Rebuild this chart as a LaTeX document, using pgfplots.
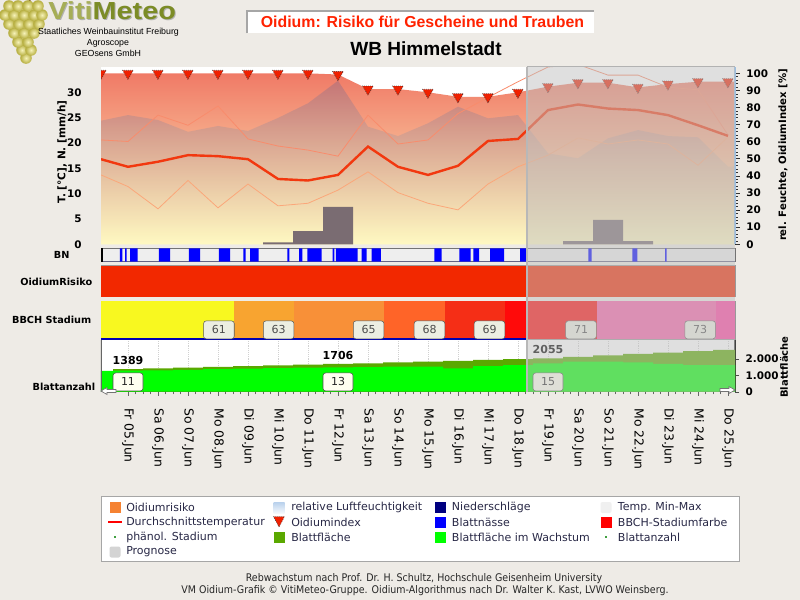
\documentclass[border=0pt]{standalone}
\usepackage{pgfplots}
\pgfplotsset{compat=1.18}
\usepgfplotslibrary{fillbetween}
\usepackage{fontspec}
\setmainfont{DejaVu Sans}
\newfontfamily\arialf{Liberation Sans}
\newfontfamily\logof[FakeStretch=1.17]{Liberation Sans}
\newfontfamily\footf[FakeStretch=0.9]{DejaVu Sans}
\newcommand{\fsz}[1]{\fontsize{#1}{#1}\selectfont}

\definecolor{pagebg}{HTML}{EEEBE6}
\definecolor{oidtop}{HTML}{F07A66}
\definecolor{oidbot}{HTML}{FFF9C2}
\definecolor{humtop}{HTML}{6A6290}
\definecolor{tline}{HTML}{F98C6C}
\definecolor{tlinemin}{HTML}{FBA77A}
\definecolor{tavg}{HTML}{F2380F}
\definecolor{precip}{HTML}{7A6C72}
\definecolor{bnblue}{HTML}{0000FF}
\definecolor{bnbg}{HTML}{EEEEEE}
\definecolor{riskred}{HTML}{F22800}
\definecolor{bbA}{HTML}{F8F820}
\definecolor{bbB}{HTML}{F8A430}
\definecolor{bbC}{HTML}{F89038}
\definecolor{bbD}{HTML}{FF6428}
\definecolor{bbE}{HTML}{F52E16}
\definecolor{bbF}{HTML}{FF0A0A}
\definecolor{bbG}{HTML}{F860A8}
\definecolor{bbH}{HTML}{FF40A0}
\definecolor{bfdark}{HTML}{5AA800}
\definecolor{bfbright}{HTML}{00FF00}
\definecolor{ovgray}{HTML}{C0C0C0}
\definecolor{legtext}{HTML}{282846}
\definecolor{rightax}{HTML}{9CBEE0}
\definecolor{tri}{HTML}{F02000}
\definecolor{titlered}{HTML}{FF2200}
\definecolor{vitiL}{HTML}{A6AE56}
\definecolor{vitiD}{HTML}{7C8C26}
\definecolor{grapeIn}{HTML}{F6F2B8}
\definecolor{grapeOut}{HTML}{B4AC3C}
\definecolor{boxfill}{HTML}{ECEEE2}
\definecolor{lboxfill}{HTML}{FFFFF0}
\definecolor{legOR}{HTML}{F58232}
\definecolor{legNS}{HTML}{000080}
\definecolor{legBN}{HTML}{0000FF}
\definecolor{legBB}{HTML}{FF0000}
\definecolor{legdot}{HTML}{40A040}
\definecolor{legHt}{HTML}{B8D0EC}
\definecolor{legHb}{HTML}{F4F8FC}

\tikzset{
  bbbox/.style={draw=black!65, fill=boxfill, rounded corners=2pt, minimum width=23pt,
    minimum height=13.5pt, inner sep=0pt, font=\fsz{8.25}, text=black!70},
  lbox/.style={draw=black!70, fill=lboxfill, rounded corners=2pt, minimum width=22.5pt,
    minimum height=13.5pt, inner sep=0pt, font=\fsz{8.25}, text=black!85},
  legt/.style={anchor=west, inner sep=0pt, font=\fsz{8.25}, text=legtext},
  sidel/.style={font=\bfseries\fsz{7.3}, inner sep=0},
}

\pgfplotsset{
  base/.style={scale only axis, width=475.5pt, xmin=-0.9, xmax=20.233, anchor=south west,
    /pgf/number format/assume math mode=true,
    ticklabel style={font=\bfseries\fsz{7.8}}},
}

\begin{document}
\begin{tikzpicture}
\begin{scope}[x=0.75pt,y=-0.75pt]
\path[use as bounding box, fill=pagebg] (0,0) rectangle (800,600);
\coordinate (cTop) at (101,244.3);
\coordinate (cBN) at (101,261.7);
\coordinate (cOR) at (101,296.7);
\coordinate (cBB) at (101,339);
\coordinate (cBF) at (101,391.7);
% logo grapes
\draw[brown!60!black, line width=1.2pt] (30,0) -- (27,6);
\foreach \gx/\gy in {26/58,22/50,31/50,18/42,28/42,14/33,24/33,34/33,9/24,19/24,29/24,39/24,5/15,14/15,24/15,34/15,42/15,9/6,18/6,28/6,38/6}
  \shade[inner color=grapeIn, outer color=grapeOut] (\gx,\gy) circle[radius=5.8];
\node[anchor=base west, inner sep=0, font=\logof\bfseries\fsz{18.5}, text=black!30] at (49,20.5) {VitiMeteo};
\node[anchor=base west, inner sep=0, font=\logof\bfseries\fsz{18.5}] at (48,19.5) {\textcolor{vitiL}{Viti}\textcolor{vitiD}{Meteo}};
\node[font=\arialf\fsz{6.6}, inner sep=0] at (108.5,32.7) {Staatliches Weinbauinstitut Freiburg};
\node[font=\arialf\fsz{6.6}, inner sep=0] at (108,43.3) {Agroscope};
\node[font=\arialf\fsz{6.6}, inner sep=0] at (108,53.3) {GEOsens GmbH};
% title
\fill[white] (246.7,10.7) rectangle (594,33.3);
\draw[black!35, line width=1.5pt] (246.7,33.3) -- (246.7,10.7) -- (594,10.7);
\node[font=\arialf\bfseries\fsz{11.9}, text=titlered, inner sep=0] at (422.5,22) {Oidium: Risiko für Gescheine und Trauben};
\node[font=\arialf\bfseries\fsz{14.3}, inner sep=0] at (426,48.5) {WB Himmelstadt};
\end{scope}

% ---------- top panel, right scale: areas ----------
\begin{axis}[base, at={(cTop)}, height=133.35pt, ymin=0, ymax=104,
  axis line style={draw=none}, ticks=none,
  axis background/.style={fill=white}]
\addplot[draw=none, top color=oidtop, bottom color=oidbot] coordinates {
 (-0.9,100)(0,100)(1,100)(2,100)(3,100)(4,100)(5,100)(6,100)(7,99.3)(8,90.8)(9,90.8)
 (10,88.9)(11,86.3)(12,86.3)(13,88.9)(14,92.2)(15,94.5)(16,94.5)(17,91.8)(18,93.7)
 (19,95.1)(20,95.1)(20.233,95.1)} \closedcycle;
\addplot[draw=none, top color=humtop, bottom color=oidbot, fill opacity=0.32] coordinates {
 (-0.9,72.3)(0,75.6)(1,72.7)(2,65.8)(3,69.2)(4,66.3)(5,73.9)(6,82.5)(7,95.7)(8,68.8)
 (9,63.3)(10,70.8)(11,80.5)(12,73.7)(13,75.6)(14,53.2)(15,50.3)(16,62)(17,66.8)
 (18,63.3)(19,62.6)(20,45.4)(20.233,45.4)} \closedcycle;
\end{axis}

% ---------- top panel, left scale: temperature, precipitation ----------
\begin{axis}[base, at={(cTop)}, height=133.35pt, ymin=0, ymax=35.1,
  axis x line*=bottom, axis y line*=left,
  axis line style={black, line width=1.2pt},
  xtick={0,...,20}, xticklabels={}, xtick style={draw=none},
  ytick={0,5,...,30}, minor y tick num=4,
  tick align=outside, major tick length=4pt, minor tick length=2.5pt,
  ytick style={black!70, line width=0.6pt},
  grid=major, major grid style={densely dotted, black!22},
  yticklabel style={xshift=-7pt}]
\addplot[ybar, bar width=1, fill=precip, draw=none] coordinates {
 (5,0.4)(6,2.6)(7,7.4)(15,0.65)(16,4.8)(17,0.65)};
\addplot[name path=tmax, tline, line width=0.6pt] coordinates {
 (-0.9,20.6)(0,20.3)(1,25.5)(2,23.5)(3,27.3)(4,20.8)(5,19.4)(6,18.6)(7,17.4)(8,25.5)
 (9,19.8)(10,20.6)(11,25.8)(12,29.0)(13,32.1)(14,35.0)(15,35.5)(16,33.4)(17,33.4)
 (18,31.0)(19,30.5)(20,21.6)};
\addplot[name path=tmin, tlinemin, line width=0.6pt] coordinates {
 (-0.9,13.7)(0,11.4)(1,7.0)(2,12.6)(3,7.2)(4,11.9)(5,7.6)(6,8.1)(7,10.7)(8,14.3)
 (9,10.2)(10,8.1)(11,6.8)(12,11.9)(13,15.3)(14,17.6)(15,21.0)(16,19.8)(17,20.6)
 (18,19.8)(19,15.6)(20,21.2)};
\addplot[white, fill opacity=0.12] fill between[of=tmax and tmin];
\addplot[tavg, line width=1.8pt] coordinates {
 (-0.9,16.8)(0,15.3)(1,16.3)(2,17.6)(3,17.4)(4,16.8)(5,12.9)(6,12.6)(7,13.7)(8,19.3)
 (9,15.3)(10,13.7)(11,15.5)(12,20.4)(13,20.8)(14,26.5)(15,27.6)(16,26.8)(17,26.5)
 (18,25.5)(19,23.5)(20,21.4)};
\end{axis}

% ---------- top panel, right scale: oidium index ----------
\begin{axis}[base, at={(cTop)}, height=133.35pt, ymin=0, ymax=104,
  axis x line=none, axis y line*=right,
  axis line style={rightax, line width=1.4pt},
  ytick={0,10,...,100}, minor y tick num=4, tick align=outside,
  major tick length=3.5pt, minor tick length=2pt,
  ytick style={black!80, line width=0.5pt},
  yticklabel style={xshift=1.5pt},
  clip marker paths=true]
\addplot[only marks, mark=triangle*, mark size=4.6pt,
  mark options={rotate=180, fill=tri, draw=black!80, densely dotted, line width=0.5pt}]
 coordinates {
 (-0.9,100)(0,100)(1,100)(2,100)(3,100)(4,100)(5,100)(6,100)(7,99.3)(8,90.8)(9,90.8)
 (10,88.9)(11,86.3)(12,86.3)(13,88.9)(14,92.2)(15,94.5)(16,94.5)(17,91.8)(18,93.7)
 (19,95.1)(20,95.1)};
\addplot[draw=black!30, line width=1.2pt] coordinates {(13.3,104)(20.233,104)};
\end{axis}

% ---------- BN strip ----------
\begin{axis}[base, at={(cBN)}, height=10.05pt, ymin=0, ymax=1, ticks=none,
  axis line style={draw=black!55, line width=0.6pt},
  axis background/.style={fill=bnbg}]
\addplot[const plot mark left, fill=bnblue, draw=none] coordinates {
 (-0.9,0)(-0.267,1)(-0.19,0)(-0.1,1)(-0.043,0)(0.067,1)(0.323,0)(1.033,1)(1.4,0)
 (2.033,1)(2.4,0)(3.033,1)(3.4,0)(3.843,1)(3.923,0)(4.067,1)(4.357,0)(5.31,1)(5.377,0)
 (5.7,1)(5.81,0)(5.977,1)(6.457,0)(6.823,1)(6.877,0)(6.933,1)(7.657,0)(7.79,1)(7.957,0)
 (8.123,1)(8.433,0)(10.21,1)(10.457,0)(11.043,1)(11.423,0)(11.51,1)(11.7,0)(12.067,1)
 (12.533,0)(13.067,1)(13.29,0)(15.343,1)(15.457,0)(16.81,1)(16.977,0)(17.9,1)(17.95,0)
 (20.233,0)} \closedcycle;
\addplot[black, line width=2.4pt] coordinates {(-0.9,0)(-0.9,1)};
\end{axis}

% ---------- OidiumRisiko strip ----------
\begin{axis}[base, at={(cOR)}, height=23.2pt, ymin=0, ymax=1, ticks=none,
  axis line style={draw=black!40, line width=0.6pt}]
\addplot[fill=riskred, draw=none] coordinates {(-0.9,1)(20.233,1)} \closedcycle;
\end{axis}

% ---------- BBCH strip ----------
\begin{axis}[base, at={(cBB)}, height=28.5pt, ymin=0, ymax=1, ticks=none,
  axis line style={draw=black!40, line width=0.6pt}]
\addplot[fill=bbA, draw=none] coordinates {(-0.9,1)(3.543,1)} \closedcycle;
\addplot[fill=bbB, draw=none] coordinates {(3.543,1)(5.533,1)} \closedcycle;
\addplot[fill=bbC, draw=none] coordinates {(5.533,1)(8.533,1)} \closedcycle;
\addplot[fill=bbD, draw=none] coordinates {(8.533,1)(10.567,1)} \closedcycle;
\addplot[fill=bbE, draw=none] coordinates {(10.567,1)(12.567,1)} \closedcycle;
\addplot[fill=bbF, draw=none] coordinates {(12.567,1)(15.623,1)} \closedcycle;
\addplot[fill=bbG, draw=none] coordinates {(15.623,1)(19.59,1)} \closedcycle;
\addplot[fill=bbH, draw=none] coordinates {(19.59,1)(20.233,1)} \closedcycle;
\addplot[draw=blue!70!black, line width=0.8pt] coordinates {(-0.9,0)(13.3,0)};
\node[bbbox] at (axis cs:3.03,0.24) {61};
\node[bbbox] at (axis cs:5.02,0.24) {63};
\node[bbbox] at (axis cs:8.02,0.24) {65};
\node[bbbox] at (axis cs:10.05,0.24) {68};
\node[bbbox] at (axis cs:12.05,0.24) {69};
\node[bbbox] at (axis cs:15.1,0.24) {71};
\node[bbbox] at (axis cs:19.07,0.24) {73};
\end{axis}

% ---------- Blattflaeche panel ----------
\begin{axis}[base, at={(cBF)}, height=39.15pt, ymin=0, ymax=3212,
  axis background/.style={fill=white},
  axis x line*=bottom, axis y line*=right,
  axis line style={black!75, line width=0.8pt},
  xtick={0,...,20},
  xticklabels={Fr 05.Jun,Sa 06.Jun,So 07.Jun,Mo 08.Jun,Di 09.Jun,Mi 10.Jun,Do 11.Jun,
    Fr 12.Jun,Sa 13.Jun,So 14.Jun,Mo 15.Jun,Di 16.Jun,Mi 17.Jun,Do 18.Jun,Fr 19.Jun,
    Sa 20.Jun,So 21.Jun,Mo 22.Jun,Di 23.Jun,Mi 24.Jun,Do 25.Jun},
  minor x tick num=3, tick align=outside, major tick length=3pt, minor tick length=2pt,
  xtick style={black!60, line width=0.6pt},
  xticklabel style={font=\mdseries\fsz{9.3}, rotate=-90, anchor=west},
  xticklabel shift=6pt,
  ytick={0,1000,2000}, ytick style={black!70},
  yticklabel style={xshift=1.5pt},
  /pgf/number format/1000 sep={.},
  xmajorgrids, major grid style={densely dotted, black!18}]
\addplot[const plot mark left, fill=bfdark, draw=none] coordinates {
 (-0.5,1389)(0.5,1436)(1.5,1483)(2.5,1530)(3.5,1577)(4.5,1624)(5.5,1670)(6.5,1706)
 (7.5,1750)(8.5,1800)(9.5,1850)(10.5,1900)(11.5,1955)(12.5,2005)(13.5,2055)(14.5,2150)
 (15.5,2240)(16.5,2330)(17.5,2410)(18.5,2490)(19.5,2575)(20.233,2575)} \closedcycle;
\addplot[const plot mark left, fill=bfbright, draw=none] coordinates {
 (-0.9,1280)(-0.5,1290)(0.5,1320)(1.5,1350)(2.5,1390)(3.5,1420)(4.5,1450)(5.5,1480)
 (6.5,1500)(7.5,1520)(8.5,1540)(9.5,1540)(10.5,1440)(11.5,1580)(12.5,1640)(13.5,1750)
 (14.5,1850)(15.5,1850)(16.5,1800)(17.5,1720)(18.5,1640)(19.5,1640)(20.233,1640)} \closedcycle;
\addplot[black!60, line width=1.2pt] coordinates {(-0.9,0)(-0.9,3212)};
\node[font=\bfseries\fsz{8.25}, anchor=south] at (axis cs:0,1389) {1389};
\node[font=\bfseries\fsz{8.25}, anchor=south] at (axis cs:7,1706) {1706};
\node[font=\bfseries\fsz{8.25}, anchor=south] at (axis cs:14,2055) {2055};
\node[lbox] at (axis cs:0,600) {11};
\node[lbox] at (axis cs:7,600) {13};
\node[lbox] at (axis cs:14,600) {15};
\end{axis}

% ---------- forecast overlay ----------
\begin{axis}[base, at={(cBF)}, height=243.9pt, ymin=0, ymax=1, ticks=none,
  axis line style={draw=none}]
\addplot[fill=ovgray, fill opacity=0.5, draw=none] coordinates {(13.3,1)(20.233,1)} \closedcycle;
\addplot[draw=black!28, line width=1.2pt] coordinates {(13.3,0)(13.3,1)};
\end{axis}

\begin{scope}[x=0.75pt,y=-0.75pt]
% side labels
\node[font=\bfseries\fsz{7.9}, rotate=90] at (62,152) {T. [°C], N. [mm/h]};
\node[font=\bfseries\fsz{7.6}, rotate=90] at (783,155) {rel. Feuchte, OidiumIndex [\%]};
\node[sidel] at (61.7,254.5) {BN};
\node[sidel, anchor=east] at (92.5,281.5) {OidiumRisiko};
\node[sidel, anchor=east] at (91.5,320) {BBCH Stadium};
\node[sidel, anchor=east] at (95.5,387) {Blattanzahl};
\node[font=\bfseries\fsz{7.5}, rotate=90] at (784,367) {Blattfläche};
% scroll arrows
\draw[fill=white, draw=black!55, line width=0.5pt] (101,391) -- (107,387.5) -- (107,389.5) -- (116,389.5) -- (116,392.5) -- (107,392.5) -- (107,394.5) -- cycle;
\draw[fill=white, draw=black!55, line width=0.5pt] (735,390) -- (729,386.5) -- (729,388.5) -- (720,388.5) -- (720,391.5) -- (729,391.5) -- (729,393.5) -- cycle;
% legend
\draw[fill=white, draw=black!35] (101.5,496.7) rectangle (739.5,561);
\fill[legOR] (109.5,502) rectangle (120.5,513);
\node[legt] at (126,507.5) {Oidiumrisiko};
\shade[top color=legHt, bottom color=legHb] (273.5,502) rectangle (284.5,513);
\node[legt] at (291,507.5) {relative Luftfeuchtigkeit};
\fill[legNS] (434.5,502) rectangle (445.5,513);
\node[legt] at (451.7,507.5) {Niederschläge};
\fill[black!6, rounded corners=1.5pt] (600.5,502) rectangle (611.5,513);
\node[legt] at (617.7,507.5) {Temp. Min-Max};
\draw[red, line width=1.6pt] (108,522) -- (122,522);
\node[legt] at (126,522) {Durchschnittstemperatur};
\draw[fill=tri, draw=black!75, densely dotted, line width=0.5pt] (273.5,516.5) -- (284.5,516.5) -- (279,527) -- cycle;
\node[legt] at (291,522) {Oidiumindex};
\fill[legBN] (434.5,516.5) rectangle (445.5,527.5);
\node[legt] at (451.7,522) {Blattnässe};
\fill[legBB] (600.5,516.5) rectangle (611.5,527.5);
\node[legt] at (617.7,522) {BBCH-Stadiumfarbe};
\fill[legdot] (114,536) rectangle (116,538);
\node[legt] at (126,537) {phänol. Stadium};
\fill[bfdark] (273.5,531.5) rectangle (284.5,542.5);
\node[legt] at (291,537) {Blattfläche};
\fill[bfbright] (434.5,531.5) rectangle (445.5,542.5);
\node[legt] at (451.7,537) {Blattfläche im Wachstum};
\fill[legdot] (605,536) rectangle (607,538);
\node[legt] at (617.7,537) {Blattanzahl};
\fill[black!17, rounded corners=1.5pt] (109.5,546.5) rectangle (120.5,557.5);
\node[legt] at (126,552) {Prognose};
% footer
\node[font=\footf\fsz{7.9}, text=black!85, inner sep=0] at (424,578.5) {Rebwachstum nach Prof. Dr. H. Schultz, Hochschule Geisenheim University};
\node[font=\footf\fsz{7.9}, text=black!85, inner sep=0] at (425,591) {VM Oidium-Grafik © VitiMeteo-Gruppe. Oidium-Algorithmus nach Dr. Walter K. Kast, LVWO Weinsberg.};
\end{scope}
\end{tikzpicture}
\end{document}
